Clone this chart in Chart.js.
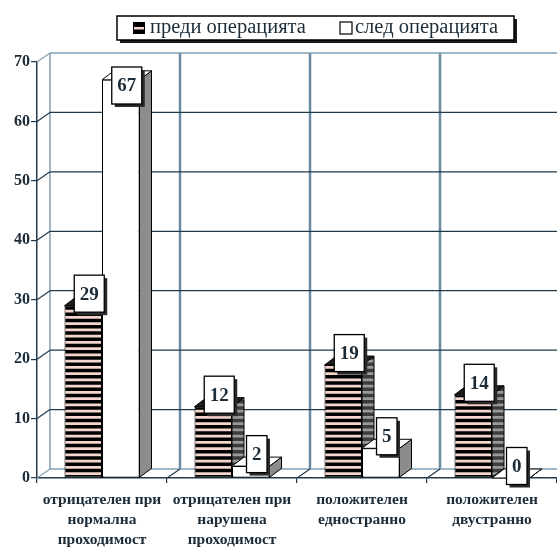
<!DOCTYPE html>
<html><head><meta charset="utf-8">
<script src="https://cdn.jsdelivr.net/npm/chart.js@4.4.1/dist/chart.umd.min.js"></script>
<style>html,body{margin:0;padding:0;background:#fff;overflow:hidden}canvas{display:block}</style>
</head><body>
<canvas id="c" width="557" height="550"></canvas>
<script>
const categories = [["отрицателен при","нормална","проходимост"],["отрицателен при","нарушена","проходимост"],["положителен","едностранно"],["положителен","двустранно"]];
const seriesNames = ["преди операцията","след операцията"];
const beforeValues = [29,12,19,14];
const afterValues = [67,2,5,0];
const yTicks = [0,10,20,30,40,50,60,70];

const DX=12, DY=-9, WDX=13, WDY=-9;
const INK='#1b2b38';
const DARK='#22394a', LIGHT='#7f9fb3', STEEL='#6a8aa2';
const SERIF='"Liberation Serif","Times New Roman",serif';
const PINK='#f3d6cc';

const canvas=document.getElementById('c');
const ctx0=canvas.getContext('2d');
function stripePattern(dark, light){
  const p=document.createElement('canvas'); p.width=4; p.height=25;
  const g=p.getContext('2d');
  g.fillStyle=light; g.fillRect(0,0,4,25);
  g.fillStyle=dark;
  for(let i=0;i<4;i++) g.fillRect(0,i*6.25,4,3.5);
  return ctx0.createPattern(p,'repeat');
}
const frontStripe=stripePattern('#000',PINK);
const sideStripe=stripePattern('#3c3c3c','#9a9a9a');

function poly(ctx,pts,fill){
  ctx.beginPath(); ctx.moveTo(pts[0][0],pts[0][1]);
  for(let i=1;i<pts.length;i++) ctx.lineTo(pts[i][0],pts[i][1]);
  ctx.closePath(); ctx.fillStyle=fill; ctx.fill();
  ctx.lineWidth=1; ctx.strokeStyle='#000'; ctx.stroke();
}
function line(ctx,x1,y1,x2,y2,c,w){
  ctx.beginPath(); ctx.moveTo(x1,y1); ctx.lineTo(x2,y2); ctx.strokeStyle=c; ctx.lineWidth=w; ctx.stroke();
}

const threeD={
  id:'threeD',
  beforeDatasetsDraw(chart){
    const ctx=chart.ctx, ca=chart.chartArea, ys=chart.scales.y, xs=chart.scales.x;
    ctx.save();
    const y0=ys.getPixelForValue(0), yT=ys.getPixelForValue(70);
    const step=xs.getPixelForValue(1)-xs.getPixelForValue(0);
    line(ctx,ca.left+WDX,y0+WDY,ca.left+WDX,yT+WDY,LIGHT,1.5);
    for(let i=1;i<categories.length;i++){
      const xb=xs.getPixelForValue(i)-step/2+WDX;
      line(ctx,xb,y0+WDY,xb,yT+WDY,STEEL,2.5);
    }
    yTicks.forEach(v=>{
      const yy=ys.getPixelForValue(v);
      const c=(v===0||v===70)?LIGHT:DARK;
      line(ctx,ca.left,yy,ca.left+WDX,yy+WDY,c,1.2);
      line(ctx,ca.left+WDX,yy+WDY,ca.right,yy+WDY,c,1.3);
    });
    for(let i=1;i<=categories.length;i++){
      const xb=xs.getPixelForValue(i)-step/2;
      line(ctx,xb,y0,xb+WDX,y0+WDY,DARK,1.2);
    }
    chart.data.datasets.forEach((ds,i)=>{
      const meta=chart.getDatasetMeta(i);
      meta.data.forEach(bar=>{
        const p=bar.getProps(['x','y','base','width'],true);
        const l=p.x-p.width/2, r=p.x+p.width/2, top=p.y, base=p.base;
        poly(ctx,[[r,base],[r,top],[r+DX,top+DY],[r+DX,base+DY]],ds.sideFill);
        poly(ctx,[[l,top],[r,top],[r+DX,top+DY],[l+DX,top+DY]],ds.topFill);
      });
    });
    ctx.restore();
  }
};

const valueLabels={
  id:'valueLabels',
  afterDatasetsDraw(chart){
    const ctx=chart.ctx, ca=chart.chartArea;
    ctx.save();
    ctx.font='bold 19px '+SERIF;
    ctx.textAlign='center'; ctx.textBaseline='middle';
    chart.data.datasets.forEach((ds,i)=>{
      const meta=chart.getDatasetMeta(i);
      meta.data.forEach((bar,j)=>{
        const txt=String(ds.data[j]);
        const tw=ctx.measureText(txt).width;
        const bw=Math.max(20,tw+11), bh=37;
        const cx=bar.x+DX/2;
        let top=bar.y-12-bh/2;
        if(top<ca.top+5) top=ca.top+5;
        const left=cx-bw/2;
        ctx.fillStyle='#2a2a2a'; ctx.fillRect(left+3,top+3,bw,bh);
        ctx.fillStyle='#fff'; ctx.fillRect(left,top,bw,bh);
        ctx.strokeStyle='#000'; ctx.lineWidth=1.3; ctx.strokeRect(left,top,bw,bh);
        ctx.fillStyle=INK; ctx.fillText(txt,cx,top+bh/2+1);
      });
    });
    ctx.restore();
  }
};

const boxLegend={
  id:'boxLegend',
  afterDraw(chart){
    const ctx=chart.ctx;
    ctx.save();
    const bx=117, by=16, bw=397, bh=24;
    ctx.fillStyle='#1a1a1a'; ctx.fillRect(bx+3,by+3,bw,bh);
    ctx.fillStyle='#fff'; ctx.fillRect(bx,by,bw,bh);
    ctx.strokeStyle='#000'; ctx.lineWidth=1.5; ctx.strokeRect(bx,by,bw,bh);
    ctx.font='20.5px '+SERIF; ctx.textBaseline='middle'; ctx.textAlign='left';
    const ds=chart.data.datasets;
    ctx.fillStyle='#000'; ctx.fillRect(133,22,12,12);
    ctx.fillStyle=PINK; ctx.fillRect(134,27,10,2.5);
    ctx.fillStyle=INK; ctx.fillText(ds[0].label,150,28);
    ctx.fillStyle='#fff'; ctx.fillRect(340,22,12,12);
    ctx.strokeStyle='#000'; ctx.lineWidth=1.2; ctx.strokeRect(340,22,12,12);
    ctx.fillStyle=INK; ctx.fillText(ds[1].label,355,28);
    ctx.restore();
  }
};

new Chart(ctx0,{
  type:'bar',
  data:{
    labels:categories,
    datasets:[
      {label:seriesNames[0],data:beforeValues,backgroundColor:frontStripe,borderColor:'#000',borderWidth:1,borderSkipped:false,sideFill:sideStripe,topFill:'#1e1e1e'},
      {label:seriesNames[1],data:afterValues,backgroundColor:'#fff',borderColor:'#000',borderWidth:1,borderSkipped:false,sideFill:'#8c8c8c',topFill:'#fff'}
    ]
  },
  options:{
    responsive:false, animation:false, devicePixelRatio:1,
    layout:{padding:{top:62,right:0,bottom:0,left:0}},
    plugins:{legend:{display:false},tooltip:{enabled:false}},
    datasets:{bar:{categoryPercentage:0.577,barPercentage:1}},
    scales:{
      x:{
        offset:true,
        grid:{display:true,drawOnChartArea:false,drawTicks:true,tickLength:5,color:DARK,lineWidth:1.2},
        border:{display:true,color:DARK,width:1.5},
        ticks:{font:{family:SERIF,size:15.5,weight:'bold',lineHeight:1.29},color:INK,padding:7,maxRotation:0,autoSkip:false},
        afterFit(s){s.height=72;}
      },
      y:{
        min:0,max:70,
        afterBuildTicks(s){s.ticks=yTicks.map(v=>({value:v}));},
        ticks:{font:{family:SERIF,size:16,weight:'bold'},color:INK,padding:1},
        grid:{drawOnChartArea:false,drawTicks:true,tickLength:6,color:DARK,lineWidth:1.2},
        border:{display:true,color:DARK,width:1.5},
        afterFit(s){s.width=37;}
      }
    }
  },
  plugins:[threeD,valueLabels,boxLegend]
});
</script>
</body></html>
